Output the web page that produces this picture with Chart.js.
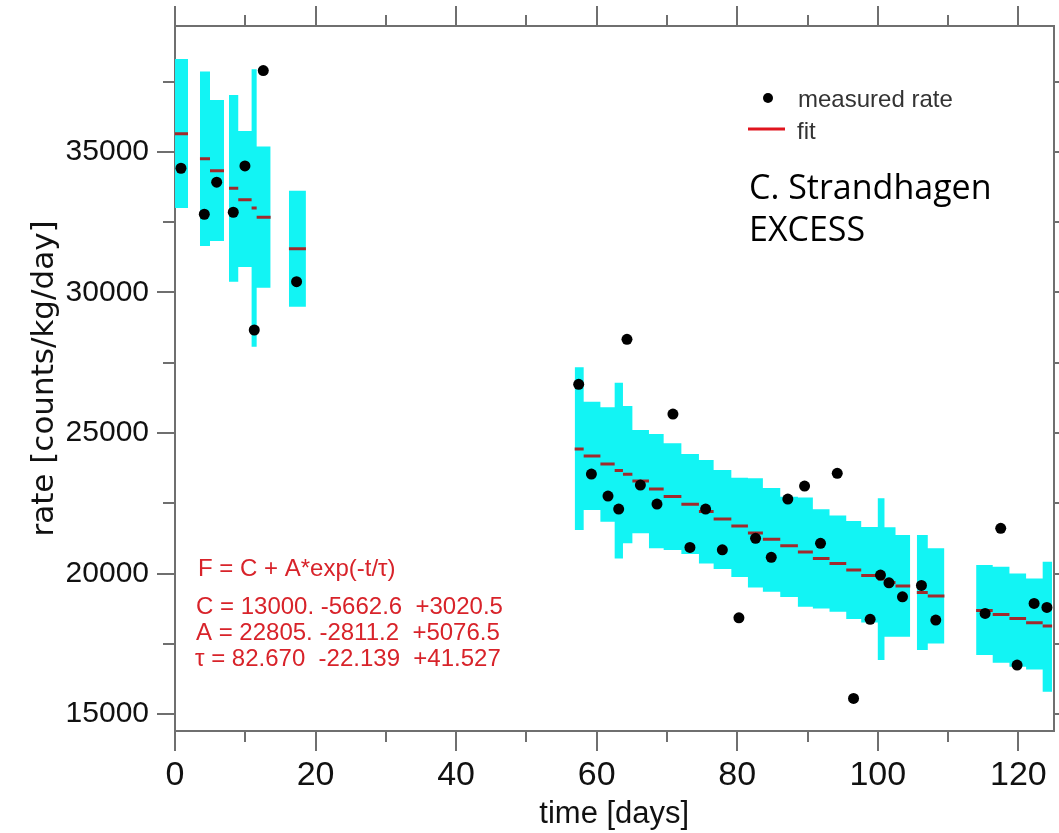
<!DOCTYPE html>
<html>
<head>
<meta charset="utf-8">
<title>rate vs time</title>
<script src="https://cdn.jsdelivr.net/npm/chart.js@4.4.1/dist/chart.umd.min.js"></script>
<style>
  html, body { margin: 0; padding: 0; background: #fff; }
  #wrap { width: 1059px; height: 833px; }
</style>
</head>
<body>
<div id="wrap"><canvas id="chart" width="1059" height="833"></canvas></div>
<script>
// time bins (days) of each measurement
const binStart = [0, 3.55, 4.98, 7.68, 9.0, 10.9, 11.62, 16.21,
  56.87, 58.15, 60.53, 62.56, 63.74, 65.08, 67.44, 69.53, 72.05, 74.55, 76.64, 79.16,
  81.52, 83.65, 86.12, 88.63, 90.76, 93.13, 95.51, 97.64, 100.0, 100.95, 102.52,
  105.55, 107.11,
  113.99, 116.35, 118.73, 121.10, 123.46];
const binEnd = [1.85, 4.98, 6.97, 9.0, 10.9, 11.62, 13.61, 18.63,
  58.15, 60.53, 62.56, 63.74, 65.08, 67.44, 69.53, 72.05, 74.55, 76.64, 79.16, 81.52,
  83.65, 86.12, 88.63, 90.76, 93.13, 95.51, 97.64, 100.0, 100.95, 102.52, 104.61,
  107.11, 109.48,
  116.35, 118.73, 121.10, 123.46, 124.8];

// fit value and its uncertainty band per bin
const fitValue = [35651, 34761, 34334, 33708, 33303, 33007, 32676, 31559,
  24431, 24181, 23897, 23665, 23530, 23292, 23007, 22740, 22463, 22213, 21939, 21690,
  21441, 21217, 20989, 20765, 20541, 20363, 20125, 19929, 19804, 19680, 19555,
  19331, 19199,
  18683, 18548, 18399, 18249, 18132];
const bandHigh = [38310, 37858, 36850, 37028, 35747, 37943, 35189, 33623,
  27338, 26114, 25914, 26790, 25961, 25107, 24964, 24633, 24253, 24039, 23683, 23409,
  23388, 23043, 22733, 22705, 22285, 22064, 21868, 21655, 22676, 21644, 21370,
  21370, 20897,
  20302, 20242, 20007, 19829, 20420];
const bandLow = [33007, 31655, 31833, 30384, 30907, 28071, 30171, 29495,
  21548, 22260, 21843, 20541, 21075, 21431, 20897, 20836, 20694, 20363, 20160, 19875,
  19502, 19352, 19164, 18818, 18762, 18641, 18381, 18256, 16922, 17751, 17751,
  17278, 17516,
  17100, 16826, 16683, 16591, 15794];

// measured rate (counts/kg/day)
const measDay = [0.85, 4.17, 5.93, 8.29, 9.95, 11.28, 12.56, 17.3,
  57.44, 59.25, 61.61, 63.13, 64.31, 66.22, 68.58, 70.85, 73.27, 75.5, 77.88, 80.24,
  82.61, 84.84, 87.2, 89.58, 91.85, 94.23, 96.55, 98.91, 100.38, 101.59, 103.51,
  106.21, 108.25,
  115.27, 117.49, 119.82, 122.24, 124.06];
const measRate = [34420, 32783, 33922, 32854, 34502, 28665, 37893, 30384,
  26733, 23541, 22758, 22295, 28334, 23149, 22473, 25676, 20932, 22295, 20847, 18427,
  21253, 20577, 22651, 23114, 21075, 23566, 15559, 18374, 19947, 19673, 19174,
  19580, 18345,
  18584, 21609, 16744, 18940, 18797];

const xMajorTicks = [0, 20, 40, 60, 80, 100, 120];
const xMinorTicks = [10, 30, 50, 70, 90, 110];
const yMajorTicks = [15000, 20000, 25000, 30000, 35000];
const yMinorTicks = [17500, 22500, 27500, 32500, 37500];

const fitText = [
  'F = C + A*exp(-t/τ)',
  'C = 13000. -5662.6  +3020.5',
  'A = 22805. -2811.2  +5076.5',
  'τ = 82.670  -22.139  +41.527'
];

// Treppenkurve über zusammenhängende Bins, Lücken mit null
function bandLine(values) {
  const pts = [];
  values.forEach((v, i) => {
    pts.push({x: binStart[i], y: v});
    const next = binStart[i + 1];
    if (next === undefined || Math.abs(next - binEnd[i]) > 0.001) {
      pts.push({x: binEnd[i], y: v});
      pts.push({x: binEnd[i], y: null});
    }
  });
  return pts;
}

// ein kurzes Stück pro Bin
function binLine(values) {
  const pts = [];
  values.forEach((v, i) => {
    pts.push({x: binStart[i], y: v});
    pts.push({x: binEnd[i], y: v});
    pts.push({x: binEnd[i], y: null});
  });
  return pts;
}

const axisColor = '#6f6f6f';
const sans = '"Liberation Sans", Arial, sans-serif';

function fixTicks(list) {
  return function(scale) {
    scale.ticks = list.map(v => ({value: v}));
  };
}

function axis(pos, min, max, ticks, len, weight, size, labels) {
  return {
    type: 'linear', position: pos, min: min, max: max, weight: weight,
    afterBuildTicks: fixTicks(ticks),
    afterFit: function(scale) {
      if (pos === 'left' || pos === 'right') scale.width = size; else scale.height = size;
      // kein Extra-Rand für überstehende Beschriftungen
      scale.paddingLeft = 0;
      scale.paddingRight = 0;
      scale.paddingTop = 0;
      scale.paddingBottom = 0;
    },
    grid: { drawOnChartArea: false, drawTicks: true, tickLength: len, color: axisColor, lineWidth: 2 },
    border: { display: true, color: axisColor, width: 2 },
    ticks: labels ? labels : { display: false }
  };
}

const annotations = {
  id: 'annotations',
  afterDraw(chart) {
    const ctx = chart.ctx;
    ctx.save();
    // legend
    ctx.fillStyle = '#000';
    ctx.beginPath();
    ctx.arc(768, 98, 5, 0, Math.PI * 2);
    ctx.fill();
    ctx.strokeStyle = '#e0141e';
    ctx.lineWidth = 3;
    ctx.beginPath();
    ctx.moveTo(748, 129);
    ctx.lineTo(785, 129);
    ctx.stroke();
    ctx.fillStyle = '#333';
    ctx.font = '24px ' + sans;
    ctx.textBaseline = 'alphabetic';
    ctx.fillText('measured rate', 798, 107);
    ctx.fillText('fit', 797, 139);
    // author
    ctx.fillStyle = '#000';
    ctx.font = '34px "Open Sans", Lato, sans-serif';
    ctx.fillText('C. Strandhagen', 749, 199);
    ctx.fillText('EXCESS', 749, 241);
    // fit parameters
    ctx.fillStyle = '#d8232a';
    ctx.font = '24px ' + sans;
    ctx.fillText(fitText[0], 198, 576);
    ctx.fillText(fitText[1], 196, 614);
    ctx.fillText(fitText[2], 196, 640);
    ctx.fillText(fitText[3], 195, 666);
    ctx.restore();
  }
};

new Chart(document.getElementById('chart'), {
  type: 'line',
  data: {
    datasets: [
      {
        label: 'measured rate',
        data: measDay.map((d, i) => ({x: d, y: measRate[i]})),
        showLine: false,
        pointRadius: 5.5,
        pointBackgroundColor: '#000',
        pointBorderWidth: 0,
        order: 0
      },
      {
        label: 'fit',
        data: binLine(fitValue),
        borderColor: '#a02a2c',
        borderWidth: 3,
        pointRadius: 0,
        fill: false,
        order: 1
      },
      {
        label: 'band low',
        data: bandLine(bandLow),
        stepped: true,
        borderWidth: 0,
        borderColor: 'rgba(0,0,0,0)',
        pointRadius: 0,
        fill: false,
        order: 3
      },
      {
        label: 'band high',
        data: bandLine(bandHigh),
        stepped: true,
        borderWidth: 0,
        borderColor: 'rgba(0,0,0,0)',
        pointRadius: 0,
        backgroundColor: '#12f4f4',
        fill: '-1',
        order: 2
      }
    ]
  },
  options: {
    responsive: false,
    animation: false,
    layout: { padding: 0 },
    plugins: { legend: { display: false }, tooltip: { enabled: false } },
    scales: {
      x: Object.assign(axis('bottom', 0, 125, xMajorTicks, 20, 2, 102, {
        font: { family: sans, size: 34 },
        color: '#111', padding: 4, maxRotation: 0
      }), {
        title: { display: true, text: 'time [days]', font: { family: sans, size: 31 }, color: '#111', padding: { top: 0, bottom: 0 } }
      }),
      xMinor: axis('bottom', 0, 125, xMinorTicks, 11, 1, 0),
      xTop: axis('top', 0, 125, xMajorTicks, 20, 2, 26),
      xTopMinor: axis('top', 0, 125, xMinorTicks, 11, 1, 0),
      y: Object.assign(axis('left', 14400, 39480, yMajorTicks, 18, 2, 175, {
        font: { family: sans, size: 30 }, color: '#111', padding: 8,
        callback: v => String(v)
      }), {
        title: { display: true, text: 'rate [counts/kg/day]', font: { family: '"DejaVu Sans", sans-serif', size: 31 }, color: '#111', padding: { top: 26, bottom: 0 } }
      }),
      yMinor: axis('left', 14400, 39480, yMinorTicks, 12, 1, 0),
      yRight: axis('right', 14400, 39480, yMajorTicks, 18, 2, 4),
      yRightMinor: axis('right', 14400, 39480, yMinorTicks, 12, 1, 0)
    }
  },
  plugins: [annotations]
});
</script>
</body>
</html>
